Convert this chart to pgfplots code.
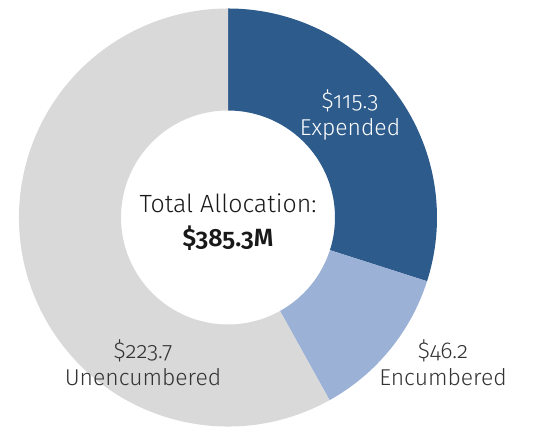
\documentclass[border=0pt]{standalone}
\usepackage{pgfplots}
\usepackage{pgfplotstable}
\pgfplotsset{compat=1.18}
\usepackage{fontspec}
\setmainfont[Numbers=OldStyle]{Fira Sans Light}

\definecolor{expended}{HTML}{2D5B8C}
\definecolor{encumbered}{HTML}{9CB1D6}
\definecolor{unenc}{HTML}{D9D9D9}

% allocation, $M
\pgfplotstableread{
label value
Expended 115.3
Encumbered 46.2
Unencumbered 223.7
}\alloc

\begin{document}
\begin{tikzpicture}
% angles from the data, clockwise from 12 o'clock
\pgfplotstablegetelem{0}{value}\of\alloc \let\va\pgfplotsretval
\pgfplotstablegetelem{1}{value}\of\alloc \let\vb\pgfplotsretval
\pgfplotstablegetelem{2}{value}\of\alloc \let\vc\pgfplotsretval
\pgfmathsetmacro\tot{\va+\vb+\vc}
\pgfmathsetmacro\aA{90}
\pgfmathsetmacro\aB{\aA-360*(\va/\tot)}
\pgfmathsetmacro\aC{\aB-360*(\vb/\tot)}
\pgfmathsetmacro\aD{\aC-360*(\vc/\tot)}
\def\cx{228}\def\cy{215.5}\def\R{209}\def\r{107}
\newcommand\ringseg[3]{%
  \fill[#3] (axis cs:{\cx+\R*cos(#1)},{\cy+\R*sin(#1)})
    arc[start angle=#1, end angle=#2, radius=\R*0.5bp]
    -- (axis cs:{\cx+\r*cos(#2)},{\cy+\r*sin(#2)})
    arc[start angle=#2, end angle=#1, radius=\r*0.5bp] -- cycle;}
\begin{axis}[x=0.5bp, y=0.5bp, xmin=0, xmax=539, ymin=0, ymax=433,
  hide axis, clip=false]
\coordinate (ll) at (axis cs:0,0);
\coordinate (ur) at (axis cs:539,433);
\ringseg{\aA}{\aB}{expended}
\ringseg{\aB}{\aC}{encumbered}
\ringseg{\aC}{\aD}{unenc}
\node[align=center, text=white, font=\fontsize{11.5}{13.5}\selectfont]
  at (axis cs:350,318) {\$115.3\\Expended};
\node[align=center, text=black!90, font=\fontsize{12.5}{17}\selectfont]
  at (axis cs:228,211) {Total Allocation:\\\textbf{\$385.3M}};
\node[align=center, text=black!80, font=\fontsize{11.5}{13.5}\selectfont]
  at (axis cs:143,70) {\$223.7\\Unencumbered};
\node[align=center, text=black!80, font=\fontsize{11.5}{13.5}\selectfont]
  at (axis cs:443,70) {\$46.2\\Encumbered};
\end{axis}
\pgfresetboundingbox
\path[use as bounding box] (ll) rectangle (ur);
\end{tikzpicture}
\end{document}
